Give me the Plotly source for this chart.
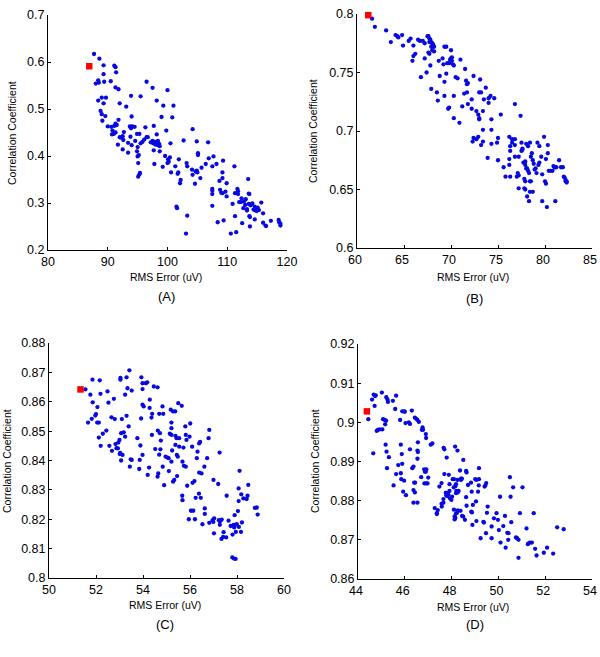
import plotly.graph_objects as go

# ---------------- Data ----------------
# Panel A
a_x = [87.7,88.6,89.3,91.1,91.3,89.3,91.4,88.0,88.5,88.4,89.4,90.5,91.3,91.8,96.5,97.5,100.0,
       88.4,89.0,89.7,89.3,92.0,93.9,93.1,95.5,98.2,99.3,101.0,
       88.8,89.0,89.6,89.1,94.0,99.0,100.8,
       90.0,90.6,91.1,91.5,91.3,91.8,90.8,90.7,91.3,91.0,
       93.7,94.1,93.9,94.5,96.3,97.7,99.8,
       91.7,92.5,92.2,92.0,92.7,92.6,93.4,92.5,93.4,93.8,94.0,94.6,94.9,95.3,95.5,95.8,96.1,96.5,96.7,
       98.2,97.9,98.4,98.6,97.2,97.6,97.5,98.0,98.4,98.7,97.7,98.7,97.8,
       95.0,94.9,95.0,95.2,95.1,95.1,95.3,95.4,
       99.2,99.6,100.1,100.0,100.2,100.4,100.5,100.6,101.3,101.8,101.7,102.7,101.9,102.1,102.2,101.5,101.6,
       103.2,103.3,103.1,103.3,104.2,104.1,104.2,104.6,104.9,105.0,104.7,104.9,105.1,105.1,105.5,105.7,
       106.8,106.4,106.9,107.5,107.7,107.5,107.5,107.5,107.5,108.2,108.4,108.7,108.8,109.0,109.2,109.3,109.2,109.2,109.4,109.7,109.9,109.9,
       110.6,110.9,111.2,111.3,111.5,111.3,111.7,111.8,111.8,112.0,112.3,112.8,112.4,112.7,113.0,112.5,113.1,113.3,113.3,
       113.5,113.6,113.7,113.6,113.8,113.9,113.7,113.8,113.8,114.1,114.4,114.6,114.6,114.2,114.6,115.7,116.0,116.0,116.4,116.5,117.3,118.6,118.7,118.9,118.9,115.1,115.3,114.9]
a_y = [0.617,0.607,0.593,0.592,0.589,0.574,0.578,0.554,0.556,0.561,0.558,0.559,0.546,0.542,0.558,0.545,0.540,
       0.518,0.524,0.524,0.512,0.512,0.528,0.505,0.527,0.518,0.507,0.507,
       0.496,0.489,0.485,0.475,0.484,0.483,0.482,
       0.463,0.462,0.464,0.466,0.469,0.477,0.454,0.446,0.450,0.447,
       0.463,0.463,0.459,0.462,0.461,0.464,0.454,
       0.424,0.442,0.439,0.440,0.451,0.434,0.428,0.414,0.407,0.441,0.423,0.432,0.447,0.447,0.427,0.430,0.435,0.440,0.440,
       0.446,0.430,0.432,0.426,0.429,0.427,0.432,0.424,0.423,0.421,0.412,0.410,0.383,
       0.419,0.410,0.399,0.402,0.385,0.356,0.361,0.364,
       0.377,0.400,0.393,0.385,0.388,0.397,0.427,0.365,0.378,0.365,0.362,0.433,0.393,0.342,0.349,0.292,0.289,
       0.385,0.378,0.235,0.273,0.457,0.371,0.360,0.341,0.369,0.365,0.367,0.431,0.406,0.402,0.353,0.375,
       0.429,0.383,0.395,0.378,0.399,0.330,0.326,0.319,0.294,0.383,0.259,0.347,0.328,0.322,0.321,0.390,0.365,0.353,0.263,0.324,0.314,0.342,
       0.235,0.298,0.378,0.272,0.238,0.321,0.330,0.325,0.319,0.302,0.302,0.303,0.310,0.289,0.296,0.257,0.308,0.287,0.284,
       0.351,0.320,0.319,0.298,0.297,0.295,0.272,0.270,0.250,0.297,0.286,0.285,0.292,0.299,0.265,0.301,0.278,0.258,0.252,0.251,0.262,0.264,0.259,0.252,0.256,0.290,0.285,0.283]
a_best_x = [86.9]
a_best_y = [0.591]

# Panel B
b_x = [61.6,61.9,63.1,63.6,64.1,64.3,64.4,64.8,64.9,65.5,65.7,65.9,66.0,66.2,66.0,66.5,66.7,67.0,66.8,67.2,67.2,67.4,
       67.5,67.6,67.7,67.8,67.9,68.0,68.1,68.2,68.0,68.2,67.7,67.9,67.6,67.7,
       67.8,67.9,68.5,68.6,68.7,68.8,69.1,69.2,69.3,69.3,69.3,69.5,69.5,69.6,69.8,69.7,69.8,
       69.9,70.0,70.1,70.0,70.1,70.2,70.3,70.3,70.3,70.5,70.7,70.9,71.0,71.2,71.4,71.5,71.6,71.7,71.8,71.7,71.8,72.2,72.2,72.3,72.4,72.4,72.7,72.7,72.9,72.9,73.0,73.0,73.1,73.0,73.2,73.2,73.4,73.4,73.4,73.5,73.7,73.9,74.0,74.0,74.2,74.3,74.3,74.3,74.6,74.9,75.0,75.0,75.3,75.6,75.8,
       76.2,76.5,76.5,76.3,76.3,76.2,76.2,76.3,76.8,76.8,76.8,76.8,77.0,77.1,77.2,77.2,77.2,77.4,77.5,77.5,77.6,77.6,77.7,77.8,77.9,77.9,77.8,77.9,77.9,78.0,78.0,78.1,78.2,78.3,78.1,78.3,78.2,78.4,78.4,78.5,78.4,78.5,78.7,78.8,78.6,78.7,79.0,79.1,79.2,79.4,79.3,79.4,79.6,79.7,79.7,79.9,80.0,80.1,80.2,80.3,80.3,80.4,80.6,80.8,80.9,81.0,81.1,81.1,81.2,81.5,81.7,81.9,82.0,82.1,82.2,82.2,82.3,82.3,80.1,78.9]
b_y = [0.796,0.789,0.786,0.776,0.782,0.781,0.780,0.782,0.773,0.777,0.779,0.760,0.764,0.766,0.773,0.778,0.777,0.777,0.746,0.775,0.762,0.750,
       0.781,0.781,0.779,0.778,0.776,0.775,0.774,0.772,0.769,0.768,0.776,0.772,0.767,0.766,
       0.756,0.736,0.733,0.726,0.760,0.747,0.762,0.757,0.772,0.742,0.730,0.749,0.772,0.758,0.758,0.719,0.720,
       0.761,0.762,0.763,0.769,0.760,0.757,0.756,0.730,0.711,0.746,0.745,0.707,0.761,0.721,0.732,0.753,0.743,0.740,0.741,0.733,0.723,0.727,0.719,0.691,0.694,0.747,0.717,0.693,0.695,0.714,0.711,0.710,0.744,0.733,0.733,0.688,0.691,0.701,0.717,0.727,0.737,0.677,0.724,0.728,0.730,0.689,0.710,0.701,0.728,0.690,0.694,0.675,0.714,0.669,0.661,
       0.695,0.693,0.690,0.683,0.687,0.676,0.671,0.661,0.723,0.693,0.688,0.678,0.661,0.664,0.662,0.651,0.678,0.713,0.690,0.683,0.685,0.684,0.673,0.651,0.650,0.657,0.659,0.674,0.671,0.668,0.689,0.668,0.666,0.664,0.644,0.640,0.687,0.690,0.657,0.657,0.648,0.678,0.675,0.672,0.681,0.648,0.668,0.664,0.690,0.687,0.671,0.673,0.678,0.663,0.640,0.695,0.657,0.655,0.635,0.688,0.681,0.666,0.666,0.666,0.670,0.669,0.669,0.640,0.669,0.675,0.669,0.669,0.661,0.660,0.658,0.657,0.656,0.657,0.676,0.667]
b_best_x = [61.2]
b_best_y = [0.799]

# Panel C
c_x = [51.55,51.66,51.76,51.82,51.85,51.86,51.97,52.0,52.06,52.05,52.12,52.12,52.16,52.19,52.2,52.29,52.44,52.49,52.53,52.57,52.66,52.68,52.76,52.8,52.83,52.87,52.93,52.95,53.0,53.01,53.03,53.04,53.04,53.07,53.07,53.1,53.13,53.18,53.24,53.24,53.3,53.3,53.34,53.39,53.42,53.44,53.48,53.52,53.52,
       53.76,53.84,53.86,53.89,53.92,53.93,53.98,53.98,53.98,54.03,53.98,54.12,54.18,54.2,54.26,54.28,54.29,54.36,54.39,54.38,54.46,54.52,54.62,54.63,54.62,54.65,54.69,54.69,54.72,54.74,54.76,54.83,54.86,54.84,54.9,54.96,
       55.04,55.09,55.1,55.14,55.18,55.28,55.21,55.21,55.21,55.21,55.24,55.28,55.33,55.38,55.37,55.38,55.43,55.44,55.48,55.45,55.5,55.54,55.54,55.65,55.67,55.68,55.68,55.72,55.74,55.82,55.8,55.82,55.85,55.88,55.95,55.98,
       56.01,56.04,56.14,56.09,56.11,56.19,56.21,56.24,56.29,56.32,56.38,56.39,56.43,56.39,56.49,56.46,56.53,56.61,56.63,56.63,56.73,56.79,56.82,56.82,56.96,56.99,57.0,57.02,57.03,57.2,57.23,57.27,57.27,57.31,57.35,57.26,57.34,57.41,57.43,57.56,57.54,57.64,57.73,57.81,
       57.85,57.88,57.92,57.95,57.99,57.8,57.87,57.94,57.9,58.04,58.07,58.07,58.11,58.08,58.17,58.18,58.21,58.27,58.41,58.45,58.48,58.76,58.84,58.88]
c_y = [0.8642,0.8529,0.8624,0.8542,0.8675,0.8598,0.8553,0.8558,0.8582,0.8529,0.8529,0.8478,0.8673,0.8627,0.8450,0.8491,0.8502,0.8635,0.8597,0.8450,0.8547,0.8433,0.8610,0.8541,0.8456,0.8442,0.8441,0.8461,0.8470,0.8422,0.8426,0.8681,0.8675,0.8493,0.8400,0.8541,0.8419,0.8496,0.8624,0.8481,0.8683,0.8552,0.8646,0.8516,0.8707,0.8379,0.8404,0.8638,0.8402,
       0.8476,0.8371,0.8402,0.8451,0.8543,0.8683,0.8663,0.8643,0.8590,0.8584,0.8419,0.8663,0.8666,0.8351,0.8376,0.8579,0.8607,0.8546,0.8559,0.8487,0.8652,0.8439,0.8649,0.8502,0.8345,0.8356,0.8559,0.8420,0.8493,0.8438,0.8468,0.8584,0.8559,0.8379,0.8316,0.8413,
       0.8410,0.8408,0.8364,0.8491,0.8573,0.8567,0.8529,0.8510,0.8487,0.8396,0.8434,0.8328,0.8334,0.8453,0.8567,0.8484,0.8476,0.8419,0.8413,0.8347,0.8595,0.8447,0.8476,0.8586,0.8280,0.8265,0.8396,0.8444,0.8382,0.8379,0.8516,0.8487,0.8470,0.8314,0.8200,0.8481,
       0.8526,0.8229,0.8229,0.8447,0.8324,0.8330,0.8200,0.8273,0.8408,0.8430,0.8287,0.8458,0.8463,0.8359,0.8356,0.8273,0.8183,0.8379,0.8237,0.8218,0.8408,0.8476,0.8504,0.8188,0.8197,0.8191,0.8334,0.8152,0.8203,0.8320,0.8197,0.8192,0.8181,0.8197,0.8199,0.8427,0.8133,0.8140,0.8156,0.8280,0.8138,0.8195,0.8177,0.8148,
       0.8181,0.8172,0.8181,0.8157,0.8183,0.8070,0.8066,0.8065,0.8214,0.8228,0.8262,0.8305,0.8365,0.8174,0.8157,0.8285,0.8189,0.8271,0.8269,0.8280,0.8317,0.8239,0.8240,0.8216]
c_best_x = [51.34]
c_best_y = [0.8642]

# Panel D
d_x = [44.44,44.65,44.6,44.67,44.73,44.76,44.71,44.8,44.85,44.92,45.04,45.02,45.07,45.14,45.2,45.16,45.21,45.26,45.28,45.18,45.22,45.24,45.32,45.49,45.52,45.59,45.63,45.63,45.72,45.8,45.83,45.83,45.85,45.87,45.89,45.89,45.97,46.0,45.93,45.97,46.03,46.05,
       46.17,46.22,46.22,46.3,46.32,46.37,46.37,46.43,46.4,46.44,46.43,46.49,46.54,46.6,46.37,46.54,46.54,46.56,46.54,46.56,46.7,46.73,46.76,46.78,46.83,46.86,46.9,46.92,46.84,46.91,46.97,46.9,46.91,47.0,47.11,47.18,
       47.28,47.37,47.41,47.37,47.48,47.57,47.57,47.58,47.65,47.65,47.66,47.69,47.69,47.75,47.77,47.82,47.86,47.77,47.82,47.91,47.79,47.88,47.91,47.93,47.99,48.02,48.05,48.1,48.09,48.16,48.19,
       48.1,48.13,48.13,48.16,48.19,48.23,48.26,48.19,48.2,48.26,48.3,48.15,48.25,48.25,48.36,48.4,48.4,48.44,48.38,48.45,48.5,48.57,48.5,48.62,48.62,48.64,48.64,48.7,48.83,48.86,48.84,48.87,48.89,48.91,49.01,49.06,49.04,49.06,49.13,49.16,49.17,49.17,49.24,49.36,49.38,49.41,49.44,49.48,49.47,49.51,49.54,
       49.71,49.71,49.81,49.92,49.98,50.02,50.07,50.09,50.21,50.28,50.31,50.38,50.43,50.42,50.49,50.52,50.55,50.63,50.75,50.8,50.86,50.86,50.92,51.03,51.2,51.26,51.29,51.35,51.43,51.51,51.57,51.63,51.94,52.08,52.34,52.51,52.79]
d_y = [0.9008,0.8921,0.9058,0.9071,0.9067,0.9069,0.9042,0.8978,0.8981,0.8982,0.8982,0.9076,0.9008,0.9006,0.9004,0.8995,0.9064,0.9058,0.9052,0.8943,0.8925,0.8883,0.8911,0.9055,0.8839,0.9034,0.9068,0.8868,0.8891,0.9006,0.8943,0.8870,0.8855,0.8919,0.8894,0.9028,0.9028,0.9027,0.8823,0.8851,0.8998,0.8814,
       0.9000,0.8996,0.8931,0.9030,0.8883,0.8887,0.8827,0.8821,0.8846,0.8846,0.9012,0.9009,0.9006,0.9001,0.8795,0.8795,0.8928,0.8924,0.8907,0.8949,0.8860,0.8981,0.8987,0.8981,0.8880,0.8874,0.8874,0.8880,0.8844,0.8844,0.8844,0.8970,0.8960,0.8859,0.8943,0.8946,
       0.8781,0.8768,0.8776,0.8766,0.8836,0.8845,0.8792,0.8785,0.8795,0.8804,0.8935,0.8931,0.8868,0.8820,0.8820,0.8818,0.8816,0.8813,0.8812,0.8825,0.8910,0.8866,0.8842,0.8806,0.8802,0.8810,0.8855,0.8855,0.8834,0.8837,0.8842,
       0.8777,0.8760,0.8752,0.8756,0.8767,0.8769,0.8775,0.8819,0.8825,0.8821,0.8825,0.8938,0.8928,0.8853,0.8877,0.8853,0.8856,0.8856,0.8774,0.8761,0.8759,0.8751,0.8904,0.8809,0.8876,0.8872,0.8787,0.8840,0.8846,0.8823,0.8772,0.8770,0.8738,0.8789,0.8855,0.8853,0.8798,0.8748,0.8823,0.8839,0.8883,0.8855,0.8704,0.8746,0.8744,0.8836,0.8839,0.8845,0.8717,0.8769,0.8785,
       0.8734,0.8704,0.8755,0.8768,0.8751,0.8725,0.8810,0.8693,0.8735,0.8761,0.8680,0.8718,0.8717,0.8700,0.8860,0.8810,0.8745,0.8834,0.8706,0.8704,0.8700,0.8654,0.8768,0.8834,0.8729,0.8689,0.8691,0.8693,0.8693,0.8768,0.8677,0.8660,0.8667,0.8680,0.8665,0.8732,0.8727]
d_best_x = [44.38]
d_best_y = [0.9028]

# Axis ranges and ticks
a_xticks = [80, 90, 100, 110, 120]
a_yticks = [0.2, 0.3, 0.4, 0.5, 0.6, 0.7]
a_ytext = ["0.2", "0.3", "0.4", "0.5", "0.6", "0.7"]
b_xticks = [60, 65, 70, 75, 80, 85]
b_yticks = [0.6, 0.65, 0.7, 0.75, 0.8]
b_ytext = ["0.6", "0.65", "0.7", "0.75", "0.8"]
c_xticks = [50, 52, 54, 56, 58, 60]
c_yticks = [0.8, 0.81, 0.82, 0.83, 0.84, 0.85, 0.86, 0.87, 0.88]
c_ytext = ["0.8", "0.81", "0.82", "0.83", "0.84", "0.85", "0.86", "0.87", "0.88"]
d_xticks = [44, 46, 48, 50, 52, 54]
d_yticks = [0.86, 0.87, 0.88, 0.89, 0.9, 0.91, 0.92]
d_ytext = ["0.86", "0.87", "0.88", "0.89", "0.9", "0.91", "0.92"]

panel_labels = ["(A)", "(B)", "(C)", "(D)"]
x_title = "RMS Error (uV)"
y_title = "Correlation Coefficient"

# ---------------- Figure ----------------
W, H = 600, 657
FONT = "Arial, Liberation Sans, Helvetica, sans-serif"
BLUE = "#0808e0"
RED = "#ff0000"

fig = go.Figure()

panels = [
    (a_x, a_y, a_best_x, a_best_y, "x", "y"),
    (b_x, b_y, b_best_x, b_best_y, "x2", "y2"),
    (c_x, c_y, c_best_x, c_best_y, "x3", "y3"),
    (d_x, d_y, d_best_x, d_best_y, "x4", "y4"),
]
for px, py, bx, by, xa, ya in panels:
    fig.add_trace(go.Scatter(x=px, y=py, mode="markers", xaxis=xa, yaxis=ya,
                             marker=dict(color=BLUE, size=4.3, line=dict(width=0)),
                             showlegend=False, hoverinfo="x+y", cliponaxis=False))
    fig.add_trace(go.Scatter(x=bx, y=by, mode="markers", xaxis=xa, yaxis=ya,
                             marker=dict(color=RED, size=6.5, symbol="square", line=dict(width=0)),
                             showlegend=False, hoverinfo="x+y", cliponaxis=False))

def dom_x(l, r):
    return [l / W, r / W]

def dom_y(top, bottom):
    return [1 - bottom / H, 1 - top / H]

common = dict(showline=True, linecolor="black", linewidth=1, ticks="inside", ticklen=3,
              tickcolor="black", showgrid=False, zeroline=False, mirror=False, automargin=False,
              ticklabeloverflow="allow",
              tickfont=dict(family=FONT, size=12.5, color="black"), fixedrange=True)

# (x key, y key, x anchor, y anchor, x domain, y domain, x range, x ticks, y range, y ticks, y tick text, x label shift)
axes_spec = [
    ("xaxis", "yaxis", "y", "x", dom_x(48, 287), dom_y(15, 250), [80, 120], a_xticks, [0.2, 0.7], a_yticks, a_ytext, 0),
    ("xaxis2", "yaxis2", "y2", "x2", dom_x(357, 592), dom_y(14, 248), [60, 85], b_xticks, [0.6, 0.8], b_yticks, b_ytext, -2),
    ("xaxis3", "yaxis3", "y3", "x3", dom_x(49, 284), dom_y(343, 578), [50, 60], c_xticks, [0.8, 0.88], c_yticks, c_ytext, 0),
    ("xaxis4", "yaxis4", "y4", "x4", dom_x(358, 592), dom_y(344, 579), [44, 54], d_xticks, [0.86, 0.92], d_yticks, d_ytext, -2),
]
lay = {}
for xk, yk, yanchor, xanchor, xd, yd, xr, xt, yr, yt, ytt, xshift in axes_spec:
    lay[xk] = dict(domain=xd, range=xr, tickvals=xt, ticktext=[str(v) for v in xt],
                   anchor=yanchor, ticklabelshift=xshift, **common)
    lay[yk] = dict(domain=yd, range=yr, tickvals=yt, ticktext=ytt, anchor=xanchor, **common)

annotations = []
def txt(text, x, y, size, angle=0):
    annotations.append(dict(text=text, x=x / W, y=1 - y / H, xref="paper", yref="paper",
                            showarrow=False, textangle=angle, xanchor="center", yanchor="middle",
                            font=dict(family=FONT, size=size, color="black")))

# axis titles and panel labels
txt(y_title, 12, 133, 10.5, -90)
txt(y_title, 313, 131, 10.5, -90)
txt(y_title, 7, 461, 10.5, -90)
txt(y_title, 315, 461, 10.5, -90)
txt(x_title, 166, 277, 10.5)
txt(x_title, 473, 277, 10.5)
txt(x_title, 165, 605, 10.5)
txt(x_title, 473, 607, 10.5)
txt(panel_labels[0], 166, 296, 13)
txt(panel_labels[1], 474, 299, 13)
txt(panel_labels[2], 165, 624, 13)
txt(panel_labels[3], 475, 624, 13)

fig.update_layout(width=W, height=H, margin=dict(l=0, r=0, t=0, b=0, autoexpand=False),
                  paper_bgcolor="white", plot_bgcolor="white",
                  annotations=annotations, showlegend=False, **lay)

fig.write_html("out.html", config={"displayModeBar": False, "staticPlot": True},
               post_script="document.body.style.margin='0';document.body.style.padding='0';"
                           "document.body.style.overflow='hidden';")
